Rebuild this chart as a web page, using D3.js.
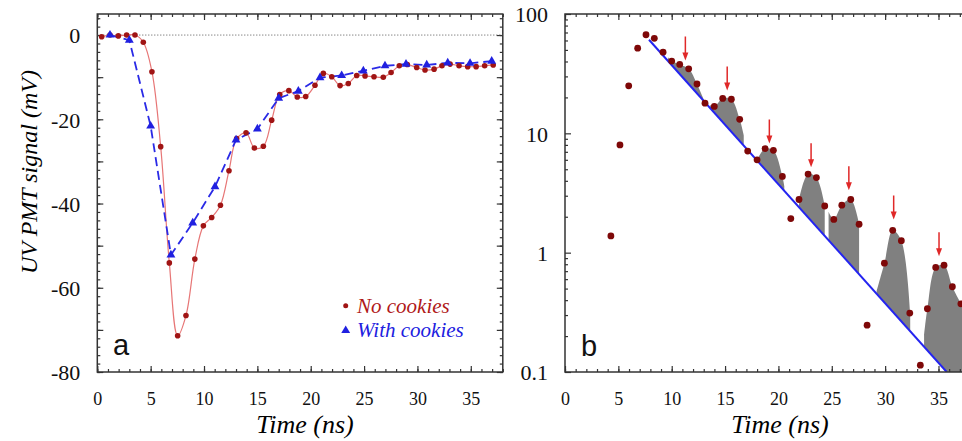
<!DOCTYPE html>
<html>
<head>
<meta charset="utf-8">
<script src="https://cdn.jsdelivr.net/npm/d3@7"></script>
<style>
  body { margin: 0; background: #fff; }
  svg { display: block; }
</style>
</head>
<body>
<div id="chart-area"></div>
<script>
// panel a: signal (mV) vs time (ns)
const tRed = [0.41, 1.19, 1.97, 2.75, 3.53, 4.31, 5.12, 5.94, 6.75, 7.53, 8.31, 9.14, 9.94, 10.72, 11.54,
  12.34, 13.06, 13.94, 14.72, 15.56, 16.34, 17.1, 17.95, 18.74, 19.53, 20.4, 21.18, 21.97, 22.75, 23.52,
  24.31, 25.09, 25.93, 26.8, 27.53, 28.3, 29.05, 29.93, 30.71, 31.56, 32.3, 33.06, 33.9, 34.71, 35.5, 36.3, 37.1];
const vRed = [-0.4, 0, -0.2, 0, 0, -1.7, -8.7, -26.5, -54.1, -71.4, -66.6, -53.2, -45.3, -43.3, -40.4,
  -32.2, -24.6, -23.2, -26.8, -26.4, -20.2, -14.1, -13.2, -14.7, -14.6, -11.9, -9.1, -9.9, -12.0, -11.5,
  -9.6, -9.7, -9.9, -10.0, -8.9, -7.3, -7.0, -7.7, -8.3, -8.1, -7.3, -6.9, -7.3, -7.5, -7.5, -7.3, -7.1];
const tBlue = [1.19, 3.0, 5.0, 6.9, 8.94, 11.03, 13.0, 15.0, 17.0, 18.84, 20.87, 22.9, 24.93, 26.96,
  28.93, 30.87, 32.84, 34.93, 36.96];
const vBlue = [0, -1.2, -21.6, -52.2, -44.6, -36.0, -24.9, -22.3, -15.0, -13.3, -10.1, -9.6, -8.5, -7.3,
  -6.9, -7.1, -6.6, -6.7, -6.2];

// panel b: |signal| on log scale
const tLog = [4.3, 5.15, 5.97, 6.81, 7.59, 8.37, 9.19, 10.0, 10.75, 11.59, 12.37, 13.12, 13.99, 14.78,
  15.59, 16.37, 17.12, 18.0, 18.75, 19.53, 20.37, 21.16, 21.93, 22.78, 23.56, 24.34, 25.19, 25.94, 26.78,
  27.56, 28.31, 29.93, 30.71, 31.52, 32.31, 33.3, 33.96, 34.74, 35.52, 36.3, 37.1];
const vLog = [1.38, 8.0, 25, 51.7, 67, 62.6, 47.9, 40.3, 37.8, 34.7, 25.9, 17.9, 16.8, 19.6,
  19.3, 13.1, 7.1, 6.0, 7.45, 7.2, 4.35, 1.93, 2.79, 4.56, 4.26, 2.46, 1.90, 2.50, 2.79,
  1.73, 0.247, 0.817, 1.54, 1.26, 0.312, 0.114, 0.339, 0.752, 0.786, 0.518, 0.373];
const fitT = [7.87, 35.77];
const fitV = [60.8, 0.1];
const winStart = [9.65, 13.6, 18.0, 21.93, 24.7, 29.2, 33.65];
const winEnd = [13.1, 16.75, 20.55, 24.34, 27.56, 32.35, 37.6];
const arrowT = [11.28, 15.2, 19.15, 23.06, 26.6, 30.8, 35.05];
const arrowV = [40.8, 22.9, 8.2, 5.2, 3.33, 1.90, 0.935];

// ticks
const xMajor = [0, 5, 10, 15, 20, 25, 30, 35];
const xMinor = d3.range(0, 39, 1);
const yMajorA = [0, -10, -20, -30, -40, -50, -60, -70, -80];
const yLabelA = [0, -20, -40, -60, -80];
const yMinorA = d3.range(-80, 6, 2);
const yMajorB = [0.1, 1, 10, 100];
const yMinorB = [0.2, 0.3, 0.4, 0.5, 0.6, 0.7, 0.8, 0.9, 2, 3, 4, 5, 6, 7, 8, 9, 20, 30, 40, 50, 60, 70, 80, 90];

const W = 962, H = 441;
const plotTop = 14, plotBottom = 372;
const frameColor = "#333";
const serif = "'Liberation Serif', 'Times New Roman', serif";

const svg = d3.select("#chart-area").append("svg")
  .attr("width", W).attr("height", H)
  .style("background", "#fff");

// scales
const xA = d3.scaleLinear().domain([0, 38]).range([97.3, 502.8]);
const yA = d3.scaleLinear().domain([-80, 5]).range([plotBottom, plotTop]);
const xB = d3.scaleLinear().domain([0, 38]).range([565, 970.5]);
const yB = d3.scaleLog().domain([0.1, 100]).range([plotBottom, plotTop]);

function frame(g, x, y, yMajor, yLabels, yMinor, fmt) {
  const x0 = x.range()[0], x1 = x.range()[1];
  const y0 = y.range()[0], y1 = y.range()[1];

  // minor ticks
  g.append("g").attr("transform", `translate(0,${y0})`)
    .call(d3.axisBottom(x).tickValues(xMinor).tickSize(-3).tickFormat(""));
  g.append("g").attr("transform", `translate(0,${y1})`)
    .call(d3.axisTop(x).tickValues(xMinor).tickSize(-3).tickFormat(""));
  g.append("g").attr("transform", `translate(${x0},0)`)
    .call(d3.axisLeft(y).tickValues(yMinor).tickSize(-3).tickFormat(""));
  g.append("g").attr("transform", `translate(${x1},0)`)
    .call(d3.axisRight(y).tickValues(yMinor).tickSize(-3).tickFormat(""));

  // major ticks
  g.append("g").attr("class", "xlab").attr("transform", `translate(0,${y0})`)
    .call(d3.axisBottom(x).tickValues(xMajor).tickSize(-6).tickPadding(20).tickFormat(d => d));
  g.append("g").attr("transform", `translate(0,${y1})`)
    .call(d3.axisTop(x).tickValues(xMajor).tickSize(-6).tickFormat(""));
  g.append("g").attr("transform", `translate(${x0},0)`)
    .call(d3.axisLeft(y).tickValues(yMajor).tickSize(-6).tickFormat(""));
  g.append("g").attr("class", "ylab").attr("transform", `translate(${x0},0)`)
    .call(d3.axisLeft(y).tickValues(yLabels).tickSize(0).tickPadding(17).tickFormat(fmt));
  g.append("g").attr("transform", `translate(${x1},0)`)
    .call(d3.axisRight(y).tickValues(yMajor).tickSize(-6).tickFormat(""));

  g.selectAll(".domain").remove();
  g.selectAll(".tick line").attr("stroke", frameColor).attr("stroke-width", 1.2);
  g.selectAll(".xlab text").attr("font-family", serif).attr("font-size", "18px").attr("fill", "#111");
  g.selectAll(".ylab text").attr("font-family", serif).attr("font-size", "22px").attr("fill", "#111")
    .attr("dy", "0.36em");

  g.append("rect")
    .attr("x", x0).attr("y", y1)
    .attr("width", x1 - x0).attr("height", y0 - y1)
    .attr("fill", "none").attr("stroke", frameColor).attr("stroke-width", 1.5);
}

// ---------- panel a ----------
const gA = svg.append("g");
frame(gA, xA, yA, yMajorA, yLabelA, yMinorA, d => String(d));

gA.append("line")
  .attr("x1", xA.range()[0]).attr("x2", xA.range()[1])
  .attr("y1", yA(0)).attr("y2", yA(0))
  .attr("stroke", "#555").attr("stroke-width", 1).attr("stroke-dasharray", "1,2");

const redData = tRed.map((t, i) => ({t: t, v: vRed[i]}));
const blueData = tBlue.map((t, i) => ({t: t, v: vBlue[i]}));

gA.append("path")
  .datum(redData)
  .attr("fill", "none").attr("stroke", "#e77676").attr("stroke-width", 1.2)
  .attr("d", d3.line().x(d => xA(d.t)).y(d => yA(d.v)).curve(d3.curveCatmullRom.alpha(0.5)));

gA.append("path")
  .datum(blueData)
  .attr("fill", "none").attr("stroke", "#2a2ae6").attr("stroke-width", 1.8)
  .attr("stroke-dasharray", "9,5")
  .attr("d", d3.line().x(d => xA(d.t)).y(d => yA(d.v)));

gA.selectAll("circle.red").data(redData).enter().append("circle")
  .attr("class", "red")
  .attr("cx", d => xA(d.t)).attr("cy", d => yA(d.v)).attr("r", 2.8)
  .attr("fill", "#a01414");

const tri = d3.symbol().type(d3.symbolTriangle).size(34);
gA.selectAll("path.tri").data(blueData).enter().append("path")
  .attr("class", "tri")
  .attr("transform", d => `translate(${xA(d.t)},${yA(d.v)})`)
  .attr("d", tri)
  .attr("fill", "#2020e0");

// legend
const legend = gA.append("g");
legend.append("circle").attr("cx", 345.7).attr("cy", 305.7).attr("r", 2.5).attr("fill", "#a01414");
legend.append("text").attr("x", 357).attr("y", 313)
  .attr("font-family", serif).attr("font-style", "italic").attr("font-size", "21px")
  .attr("fill", "#b01818").text("No cookies");
legend.append("path").attr("transform", "translate(345.7,330.5)").attr("d", tri).attr("fill", "#2020e0");
legend.append("text").attr("x", 357).attr("y", 337)
  .attr("font-family", serif).attr("font-style", "italic").attr("font-size", "21px")
  .attr("fill", "#2020e0").text("With cookies");

gA.append("text").attr("x", 113).attr("y", 355)
  .attr("font-family", "'Liberation Sans', Arial, sans-serif").attr("font-size", "29px")
  .attr("fill", "#111").text("a");

// axis titles
svg.append("text")
  .attr("x", 305).attr("y", 433)
  .attr("text-anchor", "middle")
  .attr("font-family", serif).attr("font-style", "italic").attr("font-size", "26px")
  .text("Time (ns)");

svg.append("text")
  .attr("transform", "translate(37,172) rotate(-90)")
  .attr("text-anchor", "middle")
  .attr("font-family", serif).attr("font-style", "italic").attr("font-size", "24px")
  .text("UV PMT signal (mV)");

// ---------- panel b ----------
const gB = svg.append("g");

svg.append("clipPath").attr("id", "clipB")
  .append("rect")
  .attr("x", xB.range()[0]).attr("y", plotTop)
  .attr("width", xB.range()[1] - xB.range()[0]).attr("height", plotBottom - plotTop);

const fit = t => fitV[0] * Math.pow(fitV[1] / fitV[0], (t - fitT[0]) / (fitT[1] - fitT[0]));

function interpLog(t) {
  let i = d3.bisectRight(tLog, t) - 1;
  i = Math.max(0, Math.min(tLog.length - 2, i));
  const f = (t - tLog[i]) / (tLog[i + 1] - tLog[i]);
  return Math.exp(Math.log(vLog[i]) + f * (Math.log(vLog[i + 1]) - Math.log(vLog[i])));
}

const plotB = gB.append("g").attr("clip-path", "url(#clipB)");

// shaded excess above the exponential fit
const areaB = d3.area()
  .x(d => xB(d.t))
  .y0(d => yB(fit(d.t)))
  .y1(d => yB(Math.max(d.v, fit(d.t))))
  .curve(d3.curveCatmullRom.alpha(0.5));

winStart.forEach((s, k) => {
  const e = winEnd[k];
  let pts = [{t: s, v: interpLog(s)}];
  tLog.forEach((t, i) => {
    if (t > s + 0.05 && t < e - 0.05) pts.push({t: t, v: vLog[i]});
  });
  pts.push({t: e, v: interpLog(e)});
  plotB.append("path").datum(pts)
    .attr("fill", "#808080").attr("stroke", "none")
    .attr("d", areaB);
});

plotB.append("line")
  .attr("x1", xB(fitT[0])).attr("y1", yB(fitV[0]))
  .attr("x2", xB(fitT[1])).attr("y2", yB(fitV[1]))
  .attr("stroke", "#2424f0").attr("stroke-width", 2);

plotB.selectAll("circle.pt").data(tLog.map((t, i) => ({t: t, v: vLog[i]}))).enter().append("circle")
  .attr("class", "pt")
  .attr("cx", d => xB(d.t)).attr("cy", d => yB(d.v)).attr("r", 3.4)
  .attr("fill", "#7e0808");

// arrows marking the bumps
arrowT.forEach((t, i) => {
  const ax = xB(t), tip = yB(arrowV[i]);
  plotB.append("line")
    .attr("x1", ax).attr("x2", ax).attr("y1", tip - 24).attr("y2", tip - 6)
    .attr("stroke", "#e02828").attr("stroke-width", 1.5);
  plotB.append("path")
    .attr("d", `M${ax - 3},${tip - 8}L${ax + 3},${tip - 8}L${ax},${tip}Z`)
    .attr("fill", "#e02828");
});

frame(gB, xB, yB, yMajorB, yMajorB, yMinorB, d => String(d));

gB.append("text").attr("x", 581).attr("y", 356)
  .attr("font-family", "'Liberation Sans', Arial, sans-serif").attr("font-size", "29px")
  .attr("fill", "#111").text("b");

svg.append("text")
  .attr("x", 780).attr("y", 433)
  .attr("text-anchor", "middle")
  .attr("font-family", serif).attr("font-style", "italic").attr("font-size", "26px")
  .text("Time (ns)");
</script>
</body>
</html>
